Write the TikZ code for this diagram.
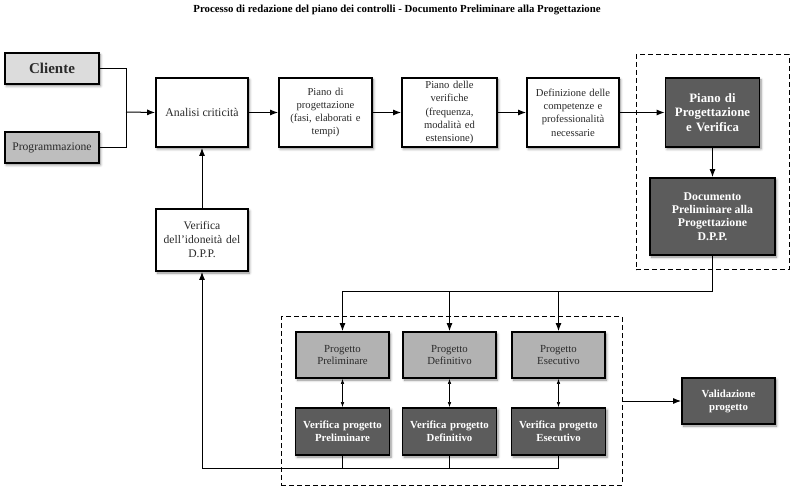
\documentclass[tikz,border=0pt]{standalone}
\usepackage{fontspec}
\setmainfont{Liberation Serif}
\usetikzlibrary{arrows.meta,shadows.blur}
\definecolor{lgray}{HTML}{DCDCDC}
\definecolor{mgray}{HTML}{BEBEBE}
\definecolor{pgray}{HTML}{B2B2B2}
\definecolor{dgray}{HTML}{5C5C5C}
\definecolor{txt}{HTML}{2A2A2A}
\tikzset{
  box/.style={draw=black, line width=1.8pt, fill=white, align=center, inner sep=2pt,
    text=txt, font=\fontsize{10.6}{13.3}\selectfont,
    blur shadow={shadow xshift=1.5pt, shadow yshift=-2pt, shadow blur steps=6, shadow blur radius=2.5pt, shadow opacity=45}},
  darkbox/.style={box, fill=dgray, text=white, font=\fontsize{10.8}{13}\selectfont\bfseries},
  dashbox/.style={draw=black, line width=1pt, dash pattern=on 5pt off 3pt},
  arr/.style={line width=1pt, -{Latex[length=8pt,width=6pt]}},
  line/.style={line width=1pt},
  darr/.style={line width=0.6pt, {Latex[length=5pt,width=3.5pt]}-{Latex[length=5pt,width=3.5pt]}},
}
\begin{document}
\begin{tikzpicture}[x=1pt,y=-1pt]
\useasboundingbox (0,0) rectangle (800,502);
\node[font=\fontsize{10.8}{12}\selectfont\bfseries, text=black] (title) at (397,10) {Processo di redazione del piano dei controlli - Documento Preliminare alla Progettazione};
% dashed groups
\node[dashbox, minimum width=153pt, minimum height=215pt] (g1) at (712.5,162.5) {};
\node[dashbox, minimum width=341pt, minimum height=168pt] (g2) at (451.5,401) {};
% top row
\node[box, fill=lgray, minimum width=94pt, minimum height=31pt, font=\fontsize{15}{17}\selectfont\bfseries] (cli) at (52,68.5) {Cliente};
\node[box, fill=mgray, minimum width=94pt, minimum height=31pt, font=\fontsize{11.6}{14}\selectfont] (prog) at (52,147.5) {Programmazione};
\node[box, minimum width=92pt, minimum height=69pt, font=\fontsize{11.8}{14}\selectfont] (ana) at (202,112.5) {Analisi criticità};
\node[box, minimum width=93pt, minimum height=69pt, text width=86pt] (pdp) at (325.5,112.5) {Piano di\\progettazione\\(fasi, elaborati e\\tempi)};
\node[box, minimum width=95pt, minimum height=69pt, text width=86pt] (pdv) at (449.5,112.5) {Piano delle\\verifiche\\(frequenza,\\modalità ed\\estensione)};
\node[box, minimum width=92pt, minimum height=69pt, text width=88pt] (def) at (573,112.5) {Definizione delle\\competenze e\\professionalità\\necessarie};
\node[darkbox, minimum width=93pt, minimum height=69pt, text width=90pt, font=\fontsize{12.8}{14.2}\selectfont\bfseries] (ppv) at (712.5,112.5) {Piano di\\Progettazione\\e Verifica};
\node[darkbox, minimum width=125pt, minimum height=77pt, font=\fontsize{11.8}{13.4}\selectfont\bfseries] (dpp) at (712.5,216.5) {Documento\\Preliminare alla\\Progettazione\\D.P.P.};
\node[box, minimum width=92pt, minimum height=62pt, text width=88pt, font=\fontsize{11.6}{14}\selectfont] (vid) at (202,240) {Verifica\\dell'idoneità del\\D.P.P.};
% bottom group
\tikzset{pbox/.style={box, fill=pgray, minimum width=93pt, minimum height=46pt, font=\fontsize{10.8}{12.8}\selectfont}}
\tikzset{vbox/.style={darkbox, minimum width=93pt, minimum height=47pt, text width=90pt}}
\node[pbox] (pp) at (342.5,355) {Progetto\\Preliminare};
\node[pbox] (pd) at (449.5,355) {Progetto\\Definitivo};
\node[pbox] (pe) at (558.5,355) {Progetto\\Esecutivo};
\node[vbox] (vp) at (342.5,431.5) {Verifica progetto\\Preliminare};
\node[vbox] (vd) at (449.5,431.5) {Verifica progetto\\Definitivo};
\node[vbox] (ve) at (558.5,431.5) {Verifica progetto\\Esecutivo};
\node[darkbox, minimum width=93pt, minimum height=46pt] (val) at (728.5,401) {Validazione\\progetto};
% connectors
\coordinate (j) at (126,112);
\draw[line] (cli.east) -| (j);
\draw[line] (prog.east) -| (j);
\draw[arr] (j) -- (ana.west);
\draw[arr] (ana) -- (pdp);
\draw[arr] (pdp) -- (pdv);
\draw[arr] (pdv) -- (def);
\draw[arr] (def) -- (ppv);
\draw[arr] (ppv) -- (dpp);
\coordinate (t) at (712.5,292);
\draw[arr] (dpp.south) -- (t) -| (pp.north);
\draw[arr] (pd.north |- t) -- (pd.north);
\draw[arr] (pe.north |- t) -- (pe.north);
\draw[darr] (pp) -- (vp);
\draw[darr] (pd) -- (vd);
\draw[darr] (pe) -- (ve);
\coordinate (b) at (202,468);
\draw[line] (vp.south) -- (vp.south |- b);
\draw[line] (vd.south) -- (vd.south |- b);
\draw[arr] (ve.south) |- (b) -- (vid.south);
\draw[arr] (vid) -- (ana);
\draw[arr] (g2.east) -- (val.west);
\end{tikzpicture}
\end{document}
